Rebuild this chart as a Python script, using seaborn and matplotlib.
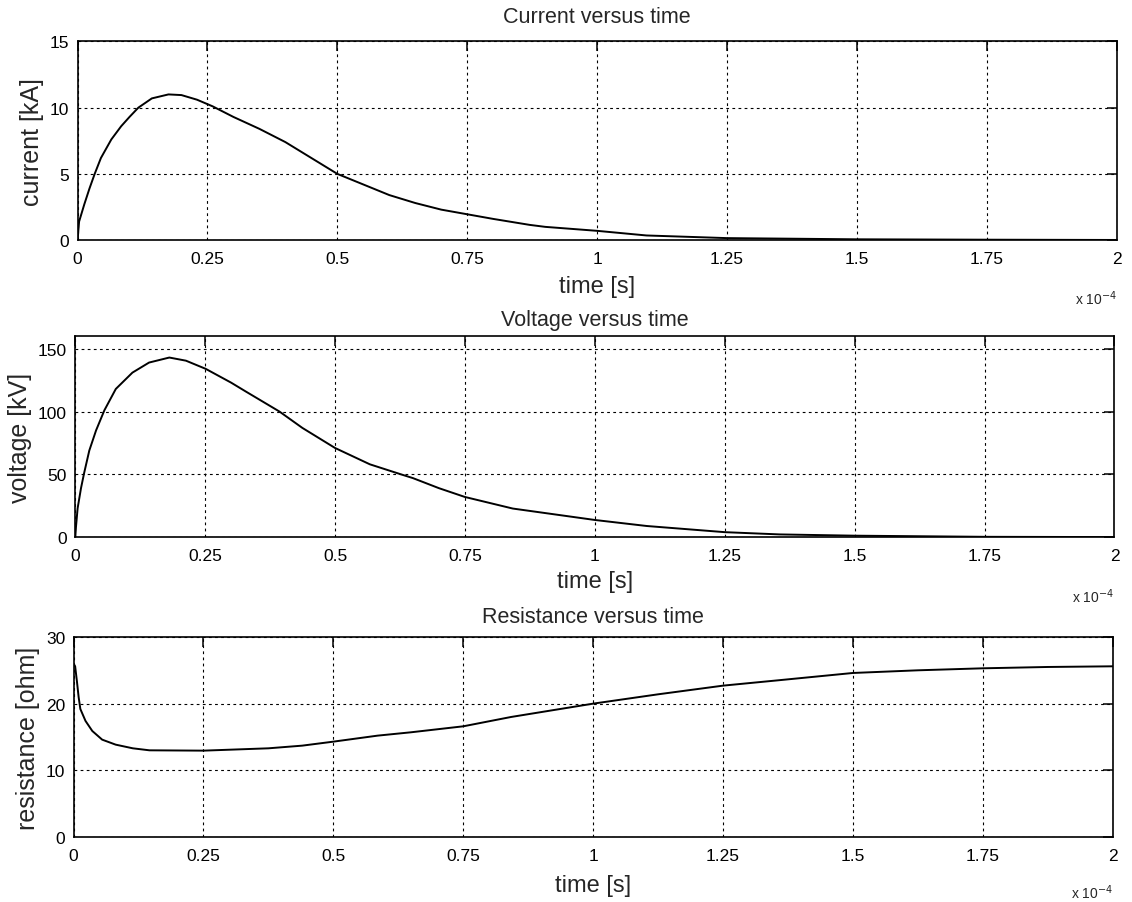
import numpy as np
import pandas as pd
import matplotlib
matplotlib.use("Agg")
import matplotlib.pyplot as plt
import seaborn as sns

# time axis in units of 1e-4 s (as printed on the x axis with "x 10^-4")
time_i = [0, 0.003, 0.013, 0.023, 0.033, 0.045, 0.065, 0.084, 0.1, 0.117,
          0.143, 0.175, 0.2, 0.23, 0.26, 0.3, 0.35, 0.4, 0.45, 0.5, 0.55,
          0.6, 0.65, 0.7, 0.75, 0.8, 0.87, 0.9, 1.0, 1.095, 1.25, 1.5, 1.75, 2.0]
current_ka = [0, 1.4, 2.7, 3.9, 5.0, 6.2, 7.6, 8.6, 9.3, 10.0,
              10.7, 11.0, 10.95, 10.6, 10.1, 9.3, 8.4, 7.4, 6.2, 5.0, 4.2,
              3.4, 2.8, 2.3, 1.95, 1.6, 1.15, 1.0, 0.7, 0.35, 0.15, 0.06, 0.03, 0.01]

time_v = [0, 0.0013, 0.0045, 0.011, 0.017, 0.027, 0.04, 0.056, 0.078, 0.11,
          0.142, 0.181, 0.213, 0.251, 0.3, 0.328, 0.393, 0.437, 0.5, 0.567,
          0.627, 0.65, 0.7, 0.75, 0.842, 1.0, 1.1, 1.25, 1.356, 1.5, 1.75, 2.0]
voltage_kv = [0, 8, 23, 39, 51, 69, 85, 101, 118, 131,
              139, 143, 140.5, 134, 123, 116, 100, 87, 71, 58,
              50, 47, 39, 32, 22.8, 13.7, 8.9, 4, 2.2, 1.2, 0.3, 0.1]

time_r = [0, 0.003, 0.0065, 0.0097, 0.013, 0.023, 0.036, 0.055, 0.081, 0.114,
          0.146, 0.25, 0.375, 0.44, 0.5, 0.585, 0.649, 0.75, 0.842, 1.0,
          1.125, 1.25, 1.356, 1.5, 1.625, 1.75, 1.875, 2.0]
resistance_ohm = [26.0, 25.6, 23.3, 21.0, 19.2, 17.4, 15.9, 14.6, 13.85, 13.3,
                  13.0, 12.95, 13.3, 13.7, 14.3, 15.2, 15.7, 16.6, 18.0, 20.0,
                  21.4, 22.7, 23.5, 24.6, 25.0, 25.3, 25.5, 25.6]

x_ticks = [0, 0.25, 0.5, 0.75, 1, 1.25, 1.5, 1.75, 2]
x_ticklabels = ["0", "0.25", "0.5", "0.75", "1", "1.25", "1.5", "1.75", "2"]

panels = [
    ("Current versus time", "current [kA]", time_i, current_ka, [0, 5, 10, 15], (0, 15)),
    ("Voltage versus time", "voltage [kV]", time_v, voltage_kv, [0, 50, 100, 150], (0, 160)),
    ("Resistance versus time", "resistance [ohm]", time_r, resistance_ohm, [0, 10, 20, 30], (0, 30)),
]

sns.set_style("white")
plt.rcParams["font.family"] = ["Liberation Sans", "DejaVu Sans"]

fig = plt.figure(figsize=(11.32, 9.03), dpi=100)
fig.patch.set_facecolor("white")

# axes rectangles in figure fractions (left, bottom, width, height)
rects = [
    (0.0685, 0.733, 0.918, 0.220),
    (0.0665, 0.404, 0.918, 0.2226),
    (0.0650, 0.072, 0.918, 0.2215),
]
title_pads = [14, 8, 11]
xlabel_pads = [6, 5, 8]
mult_y = [-0.29, -0.29, -0.275]

for (title, ylabel, tx, ty, yticks, ylim), rect, tpad, xpad, my in zip(
        panels, rects, title_pads, xlabel_pads, mult_y):
    ax = fig.add_axes(rect)
    df = pd.DataFrame({"t": tx, "v": ty})
    sns.lineplot(data=df, x="t", y="v", color="black", linewidth=1.4, ax=ax)

    ax.set_xlim(0, 2)
    ax.set_ylim(*ylim)
    ax.set_xticks(x_ticks)
    ax.set_xticklabels(x_ticklabels)
    ax.set_yticks(yticks)

    ax.grid(True, color="black", linestyle=(0, (2.5, 3)), linewidth=0.8)
    for s in ax.spines.values():
        s.set_visible(True)
        s.set_color("black")
        s.set_linewidth(1.2)

    ax.tick_params(direction="in", length=7, width=1.1, top=True, right=True,
                   labelsize=12.5, colors="black")
    ax.tick_params(axis="x", pad=8)
    ax.tick_params(axis="y", pad=6)

    ax.set_title(title, fontsize=15.5, pad=tpad)
    ax.set_xlabel("time [s]", fontsize=17, labelpad=xpad)
    ax.set_ylabel(ylabel, fontsize=18, labelpad=4)
    ax.text(1.0, my, r"x 10$^{-4}$", transform=ax.transAxes,
            ha="right", va="center", fontsize=10)

plt.savefig("out.png", dpi=100, facecolor=fig.get_facecolor())
plt.close()
